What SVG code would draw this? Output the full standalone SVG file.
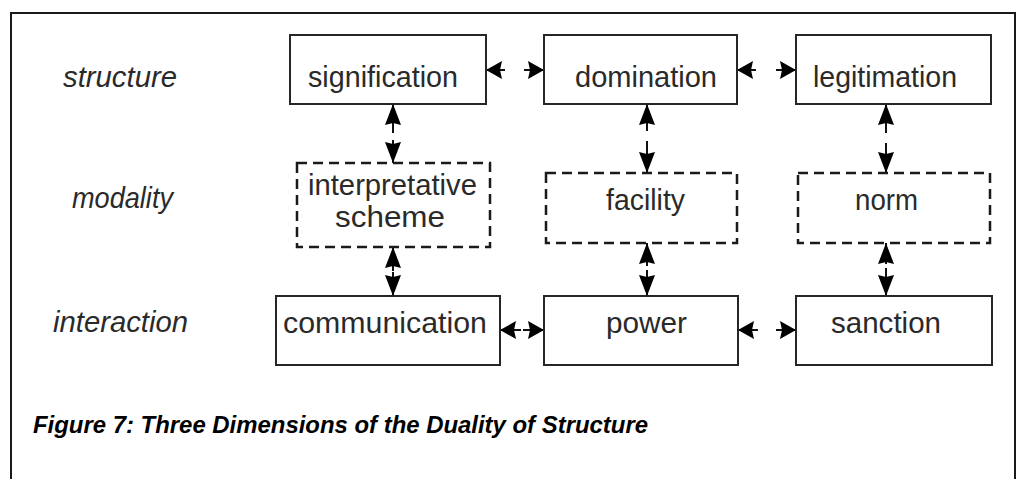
<svg xmlns="http://www.w3.org/2000/svg" width="1016" height="479" viewBox="0 0 1016 479">
<style>
.box{fill:#fff;stroke:#262626;stroke-width:2}
.dbox{fill:#fff;stroke:#1a1a1a;stroke-width:2.5;stroke-dasharray:10 6}
.t{font-family:"Liberation Sans",Arial,sans-serif;font-size:30px;fill:#2a2a2a}
.lab{font-family:"Liberation Sans",Arial,sans-serif;font-size:29px;font-style:italic;fill:#2a2a2a}
.cap{font-family:"Liberation Sans",Arial,sans-serif;font-size:24px;font-style:italic;font-weight:bold;fill:#000}
.c{fill:none;stroke:#111;stroke-width:2}
.ch{marker-start:url(#ah);marker-end:url(#ah)}
.cv{marker-start:url(#av);marker-end:url(#av)}
</style>
<defs>
<marker id="ah" viewBox="0 0 16 18" refX="16" refY="9" markerWidth="16" markerHeight="18" markerUnits="userSpaceOnUse" orient="auto-start-reverse"><path d="M0,0 L16,9 L0,18 L2,9 Z" fill="#000"/></marker>
<marker id="av" viewBox="0 0 21 16" refX="21" refY="8" markerWidth="21" markerHeight="16" markerUnits="userSpaceOnUse" orient="auto-start-reverse"><path d="M0,0 L21,8 L0,16 L2,8 Z" fill="#000"/></marker>
</defs>
<rect width="1016" height="479" fill="#fff"/>
<rect id="frame" x="11" y="13" width="1004" height="500" fill="none" stroke="#1a1a1a" stroke-width="2"/>
<g id="labels">
<text class="lab" x="63" y="87" textLength="114" lengthAdjust="spacingAndGlyphs">structure</text>
<text class="lab" x="72" y="208" textLength="101" lengthAdjust="spacingAndGlyphs">modality</text>
<text class="lab" x="53" y="332" textLength="135" lengthAdjust="spacingAndGlyphs">interaction</text>
</g>
<g id="connectors">
<path class="c ch" d="M486 70 H505 M524 70 H544"/>
<path class="c ch" d="M737 70 H756 M776 70 H796"/>
<path class="c ch" d="M500 330 H521 M523 330 H544"/>
<path class="c ch" d="M738 330 H758 M776 330 H796"/>
<path class="c cv" d="M393 104 V133 M393 140 V163"/>
<path class="c cv" d="M647 104 V131 M647 141 V173"/>
<path class="c cv" d="M886 104 V133 M886 143 V173"/>
<path class="c cv" d="M393 247 V271 M393 272 V296"/>
<path class="c cv" d="M647 243 V266 M647 270 V296"/>
<path class="c cv" d="M886 243 V264 M886 268 V296"/>
</g>
<g id="signification"><rect class="box" x="290" y="35" width="196" height="69"/><text class="t" x="308" y="87" textLength="150" lengthAdjust="spacingAndGlyphs">signification</text></g>
<g id="domination"><rect class="box" x="544" y="35" width="193" height="69"/><text class="t" x="575" y="87" textLength="142" lengthAdjust="spacingAndGlyphs">domination</text></g>
<g id="legitimation"><rect class="box" x="796" y="35" width="195" height="69"/><text class="t" x="813" y="87" textLength="144" lengthAdjust="spacingAndGlyphs">legitimation</text></g>
<g id="interpretative-scheme"><rect class="dbox" x="297" y="163" width="193" height="84"/><text class="t" x="308" y="195" textLength="169" lengthAdjust="spacingAndGlyphs">interpretative</text><text class="t" x="335" y="227" textLength="110" lengthAdjust="spacingAndGlyphs">scheme</text></g>
<g id="facility"><rect class="dbox" x="546" y="173" width="191" height="70"/><text class="t" x="606" y="210" textLength="79" lengthAdjust="spacingAndGlyphs">facility</text></g>
<g id="norm"><rect class="dbox" x="798" y="173" width="192" height="70"/><text class="t" x="855" y="210" textLength="63" lengthAdjust="spacingAndGlyphs">norm</text></g>
<g id="communication"><rect class="box" x="276" y="296" width="224" height="69"/><text class="t" x="283" y="333" textLength="204" lengthAdjust="spacingAndGlyphs">communication</text></g>
<g id="power"><rect class="box" x="544" y="296" width="194" height="69"/><text class="t" x="606" y="333" textLength="81" lengthAdjust="spacingAndGlyphs">power</text></g>
<g id="sanction"><rect class="box" x="796" y="296" width="196" height="69"/><text class="t" x="831" y="333" textLength="110" lengthAdjust="spacingAndGlyphs">sanction</text></g>
<text class="cap" x="33" y="433" textLength="615" lengthAdjust="spacingAndGlyphs">Figure 7: Three Dimensions of the Duality of Structure</text>
</svg>
